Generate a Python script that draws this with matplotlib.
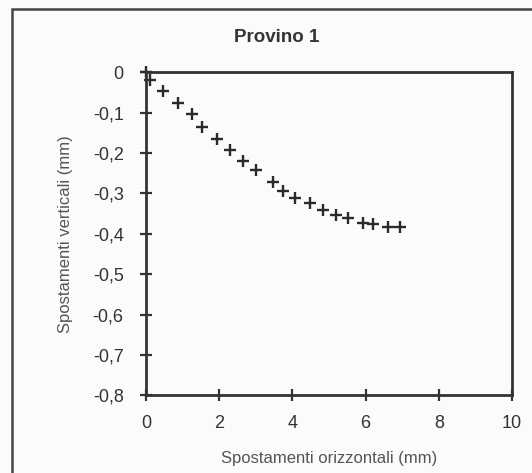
import matplotlib
matplotlib.use("Agg")
import matplotlib.pyplot as plt
from matplotlib.patches import Rectangle

# Provino 1: spostamenti orizzontali vs verticali (mm)
x_mm = [0, 0.12, 0.48, 0.88, 1.25, 1.53, 1.93, 2.29, 2.64, 3.0, 3.46,
        3.74, 4.07, 4.48, 4.83, 5.2, 5.52, 5.93, 6.2, 6.61, 6.93]
y_mm = [0, -0.02, -0.045, -0.077, -0.104, -0.135, -0.166, -0.193, -0.219,
        -0.242, -0.272, -0.293, -0.311, -0.324, -0.342, -0.353, -0.362,
        -0.374, -0.375, -0.383, -0.383]
x_ticks = [0, 2, 4, 6, 8, 10]
y_ticks = [0, -0.1, -0.2, -0.3, -0.4, -0.5, -0.6, -0.7, -0.8]
y_ticklabels = ["0", "-0,1", "-0,2", "-0,3", "-0,4", "-0,5", "-0,6", "-0,7", "-0,8"]

plt.rcParams["font.family"] = ["Liberation Sans", "DejaVu Sans"]
ink = "#333333"

fig = plt.figure(figsize=(5.32, 4.73), dpi=100)
fig.patch.set_facecolor("#fbfbfb")

# outer frame of the scanned figure (right and bottom edges fall outside)
fig.add_artist(Rectangle((12 / 532, -0.05), 1.2, 1 - 9 / 473 + 0.05,
                         transform=fig.transFigure, fill=False,
                         edgecolor="#444444", linewidth=1.8))

ax = fig.add_axes([0.2742, 0.1643, 0.6882, 0.6827])
ax.set_facecolor("#fbfbfb")
ax.plot(x_mm, y_mm, linestyle="none", marker="+", markersize=9,
        markeredgewidth=1.7, color="#2a2a2a", clip_on=False)

ax.set_xlim(0, 10)
ax.set_ylim(-0.8, 0)
ax.set_xticks(x_ticks)
ax.set_xticklabels([str(t) for t in x_ticks])
ax.set_yticks(y_ticks)
ax.set_yticklabels(y_ticklabels)
ax.tick_params(direction="inout", length=8, width=1.6, color=ink,
               labelcolor=ink, labelsize=13)
ax.tick_params(axis="x", pad=10)
ax.tick_params(axis="y", pad=12)
for s in ax.spines.values():
    s.set_linewidth(2.0)
    s.set_color(ink)

ax.set_xlabel("Spostamenti orizzontali (mm)", fontsize=12, color="#555555",
              labelpad=14)
ax.set_ylabel("Spostamenti verticali (mm)", fontsize=12, color="#555555",
              labelpad=14)

fig.text(0.521, 0.92, "Provino 1", fontsize=13.5, fontweight="bold", color=ink,
         ha="center", va="center")

fig.savefig("out.png", dpi=100, facecolor=fig.get_facecolor())
